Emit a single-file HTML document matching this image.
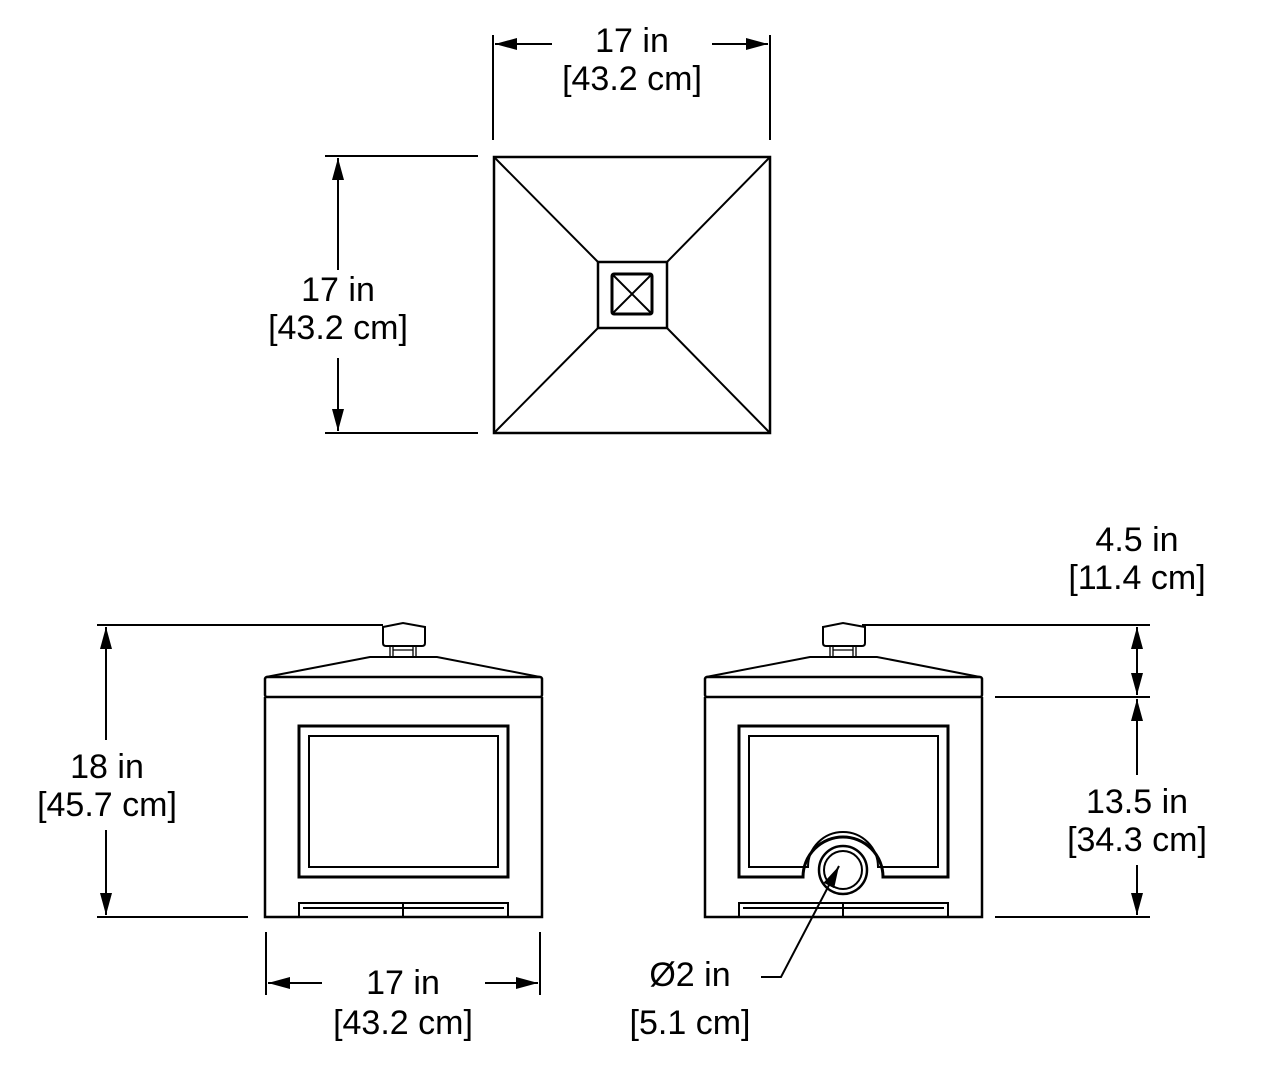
<!DOCTYPE html>
<html><head><meta charset="utf-8"><style>
html,body{margin:0;padding:0;background:#fff}
svg{display:block}
text{font-family:"Liberation Sans",Arial,sans-serif;font-size:34px;fill:#000;text-anchor:middle}
</style></head><body>
<svg width="1280" height="1073" viewBox="0 0 1280 1073" xmlns="http://www.w3.org/2000/svg">
<defs>
<marker id="a" viewBox="0 0 22 12" refX="22" refY="6" markerWidth="22" markerHeight="12" markerUnits="userSpaceOnUse" orient="auto-start-reverse">
<path d="M0,0 L22,6 L0,12 Z" fill="#000"/></marker>
<g id="unit" fill="none" stroke="#000">
<path d="M266,677 L370,657 L437,657 L540,677" stroke-width="2"/>
<rect x="265" y="677" width="277" height="20" rx="2" stroke-width="2.5"/>
<path d="M265,697 V917 H542 V697" stroke-width="2.5"/>
<path d="M383,627 L403,623 L425,627 V643 Q425,646 422,646 H386 Q383,646 383,643 Z" stroke-width="2"/>
<path d="M390,646 V657 M416,646 V657 M393,646 V657 M413,646 V657 M393,650 H413" stroke-width="1.3"/>
<path d="M299,917 V903 H508 V917 M403,903 V917 M303,908 H504" stroke-width="2"/>
</g>
</defs>

<g fill="none" stroke="#000">
<rect x="494" y="157" width="276" height="276" stroke-width="2.5"/>
<rect x="598" y="262" width="69" height="66" stroke-width="2.5"/>
<rect x="612" y="274" width="40" height="40" rx="2" stroke-width="3"/>
<path d="M612,274 L652,314 M652,274 L612,314" stroke-width="2"/>
<path d="M494,157 L598,262 M770,157 L667,262 M494,433 L598,328 M770,433 L667,328" stroke-width="2"/>
</g>

<use href="#unit"/>
<g fill="none" stroke="#000">
<rect x="299" y="726" width="209" height="151" stroke-width="3"/>
<rect x="309" y="736" width="189" height="131" stroke-width="2"/>
</g>

<use href="#unit" transform="translate(440,0)"/>
<g fill="none" stroke="#000">
<path d="M803,877 H739 V726 H948 V877 H883 A40,40 0 0 0 803,877 Z" stroke-width="3"/>
<path d="M808,867 H749 V736 H938 V867 H878 A35,35 0 0 0 808,867 Z" stroke-width="2"/>
<circle cx="843" cy="870" r="24" stroke-width="2.5"/>
<circle cx="843" cy="870" r="19" stroke-width="2"/>
</g>

<g stroke="#000" stroke-width="2" fill="none">
<path d="M493,35 V140 M770,35 V140"/>
<path d="M552,44 H495" marker-end="url(#a)"/><path d="M712,44 H768" marker-end="url(#a)"/>
<path d="M325,156 H478 M325,433 H478"/>
<path d="M338,270 V158" marker-end="url(#a)"/><path d="M338,358 V431" marker-end="url(#a)"/>
<path d="M97,625 H383 M97,917 H248"/>
<path d="M106,740 V627" marker-end="url(#a)"/><path d="M106,830 V915" marker-end="url(#a)"/>
<path d="M266,932 V995 M540,932 V995"/>
<path d="M322,983 H268" marker-end="url(#a)"/><path d="M485,983 H538" marker-end="url(#a)"/>
<path d="M862,625 H1150 M995,697 H1150 M995,917 H1150"/>
<path d="M1137,627 V695"/>
<path d="M1137,640 V627" marker-end="url(#a)"/><path d="M1137,680 V695" marker-end="url(#a)"/>
<path d="M1137,775 V699" marker-end="url(#a)"/><path d="M1137,865 V915" marker-end="url(#a)"/>
<path d="M761,977 H781 L839,866" marker-end="url(#a)"/>
</g>

<text x="632" y="52">17 in</text><text x="632" y="90">[43.2 cm]</text>
<text x="338" y="301">17 in</text><text x="338" y="339">[43.2 cm]</text>
<text x="107" y="778">18 in</text><text x="107" y="816">[45.7 cm]</text>
<text x="403" y="994">17 in</text><text x="403" y="1034">[43.2 cm]</text>
<text x="1137" y="551">4.5 in</text><text x="1137" y="589">[11.4 cm]</text>
<text x="1137" y="813">13.5 in</text><text x="1137" y="851">[34.3 cm]</text>
<text x="690" y="986">Ø2 in</text><text x="690" y="1034">[5.1 cm]</text>
</svg>
</body></html>
